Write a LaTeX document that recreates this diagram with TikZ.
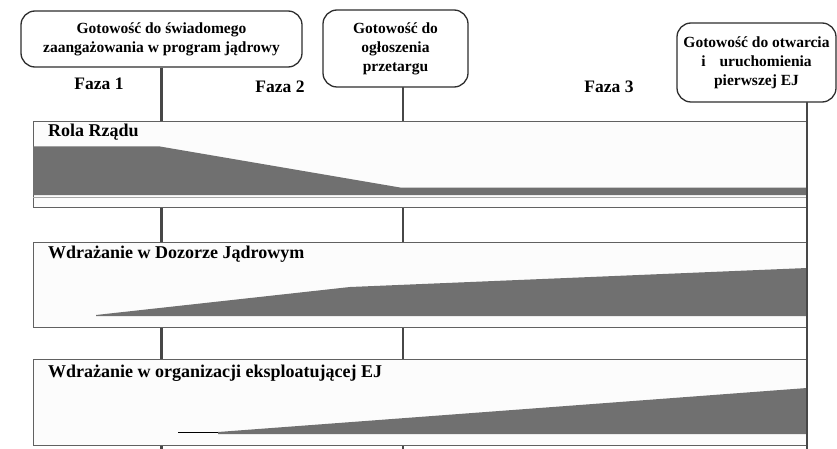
\documentclass[tikz,border=0pt]{standalone}
\usepackage{fontspec}
\setmainfont{Liberation Serif}
\begin{document}
\begin{tikzpicture}[x=1pt,y=-1pt,
  milestone/.style={draw=black!82, line width=1.3pt, rounded corners=14pt, fill=white,
    align=center, inner sep=0pt, font=\bfseries\fontsize{15.5}{19}\selectfont},
  panel/.style={draw=black!62, line width=0.9pt, fill=black!1},
  phase/.style={anchor=base, inner sep=0pt, font=\bfseries\fontsize{17.5}{20}\selectfont},
  plabel/.style={anchor=base west, inner sep=0pt, font=\bfseries\fontsize{18}{20}\selectfont},
  vline/.style={draw=black!72, line width=2.4pt},
  wedge/.style={fill=black!56, draw=none}]
\useasboundingbox (0,0) rectangle (837,449);

% milestone boxes
\node[milestone, minimum width=281pt, minimum height=56pt] (b1) at (161.5,39)
  {Gotowość do świadomego\\zaangażowania w program jądrowy};
\node[milestone, minimum width=145pt, minimum height=77pt] (b2) at (395.5,48.5)
  {Gotowość do\\ogłoszenia\\przetargu};
\node[milestone, minimum width=159pt, minimum height=79pt] (b3) at (756.5,62.5)
  {Gotowość do otwarcia\\i\hspace{0.9em}uruchomienia\\pierwszej EJ};

\coordinate (c2) at (403,87);
\coordinate (c3) at (807,102);
\coordinate (e1) at (161.5,449);
\coordinate (e2) at (403,449);
\coordinate (e3) at (807,449);

% vertical milestone lines (behind panels)
\draw[vline] (b1.south) -- (e1);
\draw[vline] (c2) -- (e2);

% phase labels
\node[phase] (f1) at (99,90) {Faza 1};
\node[phase] (f2) at (280,93) {Faza 2};
\node[phase] (f3) at (609,93) {Faza 3};

% panels
\draw[panel] (33,121) rectangle (807,207);
\draw[panel] (33,242) rectangle (807,327);
\draw[panel] (33,359) rectangle (807,445);

% gray areas
\fill[wedge] (33,146.5) -- (160,146.5) -- (400,187.5) -- (807,187.5) -- (807,195) -- (33,195) -- cycle;
\draw[black!35, line width=0.5pt] (33,197.5) -- (807,197.5);
\fill[wedge] (96,315) -- (350,287) -- (807,268) -- (807,316) -- (96,316) -- cycle;
\draw[black, line width=1.1pt] (178,432.5) -- (218,432.5);
\fill[wedge] (218,432) -- (807,388) -- (807,434) -- (218,434) -- cycle;

% panel labels
\node[plabel] (p1) at (48,137) {Rola Rządu};
\node[plabel] (p2) at (48,258) {Wdrażanie w Dozorze Jądrowym};
\node[plabel] (p3) at (48,377) {Wdrażanie w organizacji eksploatującej EJ};

% final milestone line (right edge of panels)
\draw[vline] (c3) -- (e3);
\end{tikzpicture}
\end{document}
